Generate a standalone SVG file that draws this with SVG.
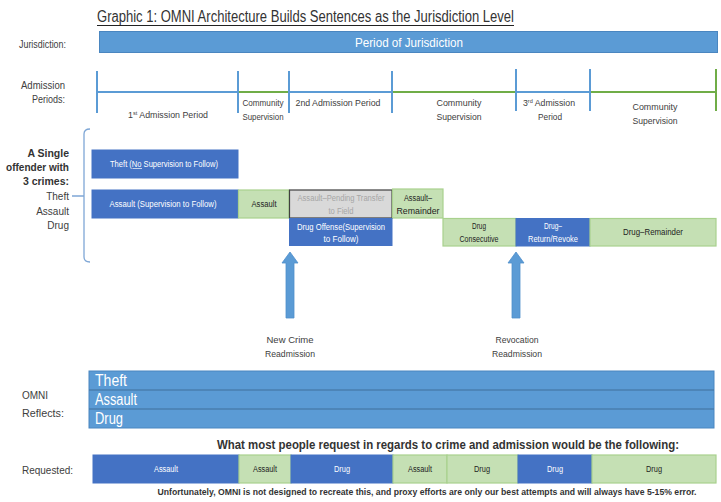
<svg xmlns="http://www.w3.org/2000/svg" width="721" height="502" viewBox="0 0 721 502">
<style>
text{font-family:"Liberation Sans",Arial,sans-serif;fill:#333}
.lbl{font-size:10px;fill:#404040}
.tl{font-size:9.5px;fill:#404040;text-anchor:middle}
.bx{font-size:8.5px;text-anchor:middle}
.w{fill:#ffffff}
.d{fill:#222}
.g{fill:#a6a6a6}
.blue{fill:#4472c4;stroke:#4472c4}
.lb{fill:#5b9bd5;stroke:#4a86c0;stroke-width:1}
.grn{fill:#c5e0b4;stroke:#a9d18e;stroke-width:1.2}
.gry{fill:#d9d9d9;stroke:#404040;stroke-width:1.2}
.tb{stroke:#5b9bd5;stroke-width:2}
.tg{stroke:#70ad47;stroke-width:2}
.arr{fill:#5b9bd5;stroke:#4f8fcb;stroke-width:0.8}
</style>
<rect width="721" height="502" fill="#ffffff"/>

<g id="title">
<text x="97" y="22" font-size="16" textLength="417" lengthAdjust="spacingAndGlyphs" fill="#222">Graphic 1: OMNI Architecture Builds Sentences as the Jurisdiction Level</text>
<line x1="97" y1="25.5" x2="514" y2="25.5" stroke="#222" stroke-width="1"/>
</g>

<g id="jurisdiction">
<text class="lbl" x="66" y="48" text-anchor="end" textLength="47" lengthAdjust="spacingAndGlyphs">Jurisdiction:</text>
<rect class="lb" x="99.5" y="31.5" width="618" height="21"/>
<text x="409" y="47" font-size="13" text-anchor="middle" textLength="108" lengthAdjust="spacingAndGlyphs" class="w">Period of Jurisdiction</text>
</g>

<g id="admission-periods">
<text class="lbl" x="65" y="89" text-anchor="end" textLength="44" lengthAdjust="spacingAndGlyphs">Admission</text>
<text class="lbl" x="65" y="103" text-anchor="end" textLength="33" lengthAdjust="spacingAndGlyphs">Periods:</text>
<line class="tb" x1="97" y1="92" x2="238" y2="92"/>
<line class="tg" x1="238" y1="92" x2="289" y2="92"/>
<line class="tb" x1="289" y1="92" x2="392" y2="92"/>
<line class="tg" x1="392" y1="92" x2="516" y2="92"/>
<line class="tb" x1="516" y1="92" x2="590" y2="92"/>
<line class="tg" x1="590" y1="92" x2="716" y2="92"/>
<line class="tb" x1="97" y1="71" x2="97" y2="113"/>
<line class="tb" x1="238" y1="71" x2="238" y2="113"/>
<line class="tb" x1="289" y1="71" x2="289" y2="113"/>
<line class="tb" x1="392" y1="71" x2="392" y2="113"/>
<line class="tb" x1="516" y1="69" x2="516" y2="111"/>
<line class="tb" x1="590" y1="69" x2="590" y2="111"/>
<line class="tg" x1="716" y1="69" x2="716" y2="111"/>
<text class="tl" x="168" y="118" textLength="80" lengthAdjust="spacingAndGlyphs">1<tspan font-size="6" dy="-3.5">st</tspan><tspan dy="3.5"> Admission Period</tspan></text>
<text class="tl" x="263" y="106" textLength="41" lengthAdjust="spacingAndGlyphs">Community</text>
<text class="tl" x="263" y="120" textLength="41" lengthAdjust="spacingAndGlyphs">Supervision</text>
<text class="tl" x="338" y="106" textLength="85" lengthAdjust="spacingAndGlyphs">2nd Admission Period</text>
<text class="tl" x="459" y="106" textLength="45" lengthAdjust="spacingAndGlyphs">Community</text>
<text class="tl" x="459" y="120" textLength="45" lengthAdjust="spacingAndGlyphs">Supervision</text>
<text class="tl" x="549" y="106" textLength="52" lengthAdjust="spacingAndGlyphs">3<tspan font-size="6" dy="-3.5">rd</tspan><tspan dy="3.5"> Admission</tspan></text>
<text class="tl" x="550" y="120" textLength="24" lengthAdjust="spacingAndGlyphs">Period</text>
<text class="tl" x="655" y="110" textLength="45" lengthAdjust="spacingAndGlyphs">Community</text>
<text class="tl" x="655" y="124" textLength="45" lengthAdjust="spacingAndGlyphs">Supervision</text>
</g>

<g id="offender">
<text x="69" y="157" font-size="10.5" font-weight="bold" text-anchor="end" fill="#333">A Single</text>
<text x="69" y="171" font-size="10.5" font-weight="bold" text-anchor="end" fill="#333" textLength="63" lengthAdjust="spacingAndGlyphs">offender with</text>
<text x="69" y="185" font-size="10.5" font-weight="bold" text-anchor="end" fill="#333">3 crimes:</text>
<text class="lbl" x="69" y="200" text-anchor="end" font-size="10.5">Theft</text>
<text class="lbl" x="69" y="215" text-anchor="end" font-size="10.5">Assault</text>
<text class="lbl" x="69" y="229" text-anchor="end" font-size="10.5">Drug</text>
<path d="M90,129 Q84,129 84,134 L84,257 Q84,262 90,262 M72,196 L84,196" fill="none" stroke="#7fa7d6" stroke-width="1.3"/>
</g>

<g id="theft">
<rect class="blue" x="92" y="150" width="146" height="28"/>
<text class="bx w" x="164" y="167" textLength="108" lengthAdjust="spacingAndGlyphs">Theft (No Supervision to Follow)</text>
<line x1="132.5" y1="168.5" x2="142" y2="168.5" stroke="#ffffff" stroke-width="0.7"/>
</g>
<g id="assault-sup">
<rect class="blue" x="92" y="190" width="146" height="28"/>
<text class="bx w" x="163" y="207" textLength="107" lengthAdjust="spacingAndGlyphs">Assault (Supervision to Follow)</text>
</g>
<g id="assault-cs">
<rect class="grn" x="238.5" y="190" width="50.5" height="28"/>
<text class="bx d" x="264" y="207" textLength="25" lengthAdjust="spacingAndGlyphs">Assault</text>
</g>
<g id="assault-pending">
<rect class="gry" x="289.5" y="190" width="102.5" height="28"/>
<text class="bx g" x="341" y="201" textLength="87" lengthAdjust="spacingAndGlyphs">Assault–Pending Transfer</text>
<text class="bx g" x="341" y="214" textLength="25" lengthAdjust="spacingAndGlyphs">to Field</text>
</g>
<g id="assault-remainder">
<rect class="grn" x="392.5" y="189" width="50.5" height="29"/>
<text class="bx d" x="418" y="201" textLength="28" lengthAdjust="spacingAndGlyphs">Assault–</text>
<text class="bx d" x="418" y="214" textLength="43" lengthAdjust="spacingAndGlyphs">Remainder</text>
</g>
<g id="drug-offense">
<rect class="blue" x="289.5" y="218.5" width="102.5" height="27"/>
<text class="bx w" x="341" y="229.5" textLength="88" lengthAdjust="spacingAndGlyphs">Drug Offense(Supervision</text>
<text class="bx w" x="341" y="242" textLength="35" lengthAdjust="spacingAndGlyphs">to Follow)</text>
</g>
<g id="drug-consecutive">
<rect class="grn" x="443" y="218.5" width="73" height="27.5"/>
<text class="bx d" x="479" y="228.5" textLength="14" lengthAdjust="spacingAndGlyphs">Drug</text>
<text class="bx d" x="479" y="241.5" textLength="39" lengthAdjust="spacingAndGlyphs">Consecutive</text>
</g>
<g id="drug-revoke">
<rect class="blue" x="516" y="218.5" width="74" height="27.5"/>
<text class="bx w" x="553" y="228.5" textLength="18" lengthAdjust="spacingAndGlyphs">Drug–</text>
<text class="bx w" x="553" y="241.5" textLength="50" lengthAdjust="spacingAndGlyphs">Return/Revoke</text>
</g>
<g id="drug-remainder">
<rect class="grn" x="590" y="218.5" width="126" height="27.5"/>
<text class="bx d" x="653" y="235" textLength="60" lengthAdjust="spacingAndGlyphs">Drug–Remainder</text>
</g>

<g id="connectors">
<path class="arr" d="M290,252 L298,263 L294,263 L294,318 L286,318 L286,263 L282,263 Z"/>
<path class="arr" d="M516,252 L524,263 L520,263 L520,318 L512,318 L512,263 L508,263 Z"/>
</g>

<g id="new-crime">
<text class="tl" x="290" y="343" textLength="47" lengthAdjust="spacingAndGlyphs">New Crime</text>
<text class="tl" x="290" y="357" textLength="50" lengthAdjust="spacingAndGlyphs">Readmission</text>
</g>
<g id="revocation">
<text class="tl" x="517" y="343" textLength="43" lengthAdjust="spacingAndGlyphs">Revocation</text>
<text class="tl" x="517" y="357" textLength="50" lengthAdjust="spacingAndGlyphs">Readmission</text>
</g>

<g id="omni">
<text class="lbl" x="22" y="399" font-size="11">OMNI</text>
<text class="lbl" x="22" y="417" font-size="11" textLength="42" lengthAdjust="spacingAndGlyphs">Reflects:</text>
<rect class="lb" x="89" y="371" width="625" height="57"/>
<line x1="89" y1="390" x2="714" y2="390" stroke="#41719c" stroke-width="1.2"/>
<line x1="89" y1="409" x2="714" y2="409" stroke="#41719c" stroke-width="1.2"/>
<text class="w" x="95" y="386" font-size="16" textLength="32" lengthAdjust="spacingAndGlyphs">Theft</text>
<text class="w" x="95" y="405" font-size="16" textLength="42" lengthAdjust="spacingAndGlyphs">Assault</text>
<text class="w" x="95" y="424" font-size="16" textLength="28" lengthAdjust="spacingAndGlyphs">Drug</text>
</g>

<g id="requested">
<text x="448" y="449" font-size="12" font-weight="bold" text-anchor="middle" fill="#222" textLength="462" lengthAdjust="spacingAndGlyphs">What most people request in regards to crime and admission would be the following:</text>
<text class="lbl" x="22" y="474" font-size="11" textLength="51" lengthAdjust="spacingAndGlyphs">Requested:</text>
<rect class="blue" x="93" y="455" width="146" height="28"/>
<text class="bx w" x="166" y="472" textLength="24" lengthAdjust="spacingAndGlyphs">Assault</text>
<rect class="grn" x="239" y="455" width="52" height="28"/>
<text class="bx d" x="265" y="472" textLength="24" lengthAdjust="spacingAndGlyphs">Assault</text>
<rect class="blue" x="291" y="455" width="102" height="28"/>
<text class="bx w" x="342" y="472" textLength="16" lengthAdjust="spacingAndGlyphs">Drug</text>
<rect class="grn" x="393" y="455" width="54" height="28"/>
<text class="bx d" x="420" y="472" textLength="24" lengthAdjust="spacingAndGlyphs">Assault</text>
<rect class="grn" x="447" y="455" width="71" height="28"/>
<text class="bx d" x="482" y="472" textLength="16" lengthAdjust="spacingAndGlyphs">Drug</text>
<rect class="blue" x="518" y="455" width="74" height="28"/>
<text class="bx w" x="555" y="472" textLength="16" lengthAdjust="spacingAndGlyphs">Drug</text>
<rect class="grn" x="592" y="455" width="124" height="28"/>
<text class="bx d" x="654" y="472" textLength="16" lengthAdjust="spacingAndGlyphs">Drug</text>
<text x="427" y="495" font-size="8.3" font-weight="bold" text-anchor="middle" fill="#222" textLength="539" lengthAdjust="spacingAndGlyphs">Unfortunately, OMNI is not designed to recreate this, and proxy efforts are only our best attempts and will always have 5-15% error.</text>
</g>
</svg>
